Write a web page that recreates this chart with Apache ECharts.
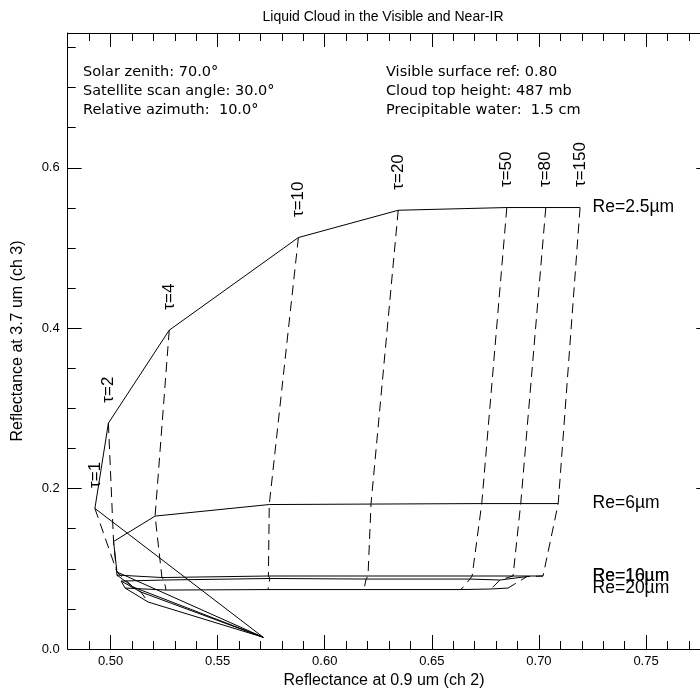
<!DOCTYPE html>
<html><head><meta charset="utf-8">
<script src="https://cdn.jsdelivr.net/npm/echarts@6/dist/echarts.min.js"></script>
<style>html,body{margin:0;padding:0;background:#fff;overflow:hidden;width:700px;height:694px}#chart{width:711px;height:694px}</style>
</head><body><div id="chart"></div>
<script>
// ---- data (reflectance at 0.9 um, reflectance at 3.7 um) ----
const TAU_LABELS = ['τ=1', 'τ=2', 'τ=4', 'τ=10', 'τ=20', 'τ=50', 'τ=80', 'τ=150'];
const RE_NAMES = ['Re=2.5µm', 'Re=6µm', 'Re=10µm', 'Re=16µm', 'Re=20µm'];
const CLEAR_SKY = [0.5713, 0.0146];   // tau = 0
const re2_5 = [[0.4927,0.1753],[0.4990,0.2816],[0.5274,0.3975],[0.5877,0.5130],[0.6343,0.5470],[0.6850,0.5504],[0.7032,0.5504],[0.7192,0.5504]];
const re6   = [[0.5030,0.0960],[0.5014,0.1340],[0.5208,0.1657],[0.5741,0.1801],[0.6216,0.1807],[0.6733,0.1813],[0.6915,0.1813],[0.7090,0.1813]];
const re10  = [[0.5105,0.0773],[0.5030,0.0922],[0.5240,0.0891],[0.5737,0.0910],[0.6202,0.0910],[0.6688,0.0910],[0.6879,0.0910],[0.7019,0.0910]];
const re16  = [[0.5142,0.0710],[0.5049,0.0847],[0.5250,0.0860],[0.5744,0.0879],[0.6193,0.0872],[0.6678,0.0872],[0.6818,0.0860],[0.6944,0.0903]];
const re20  = [[0.5175,0.0586],[0.5068,0.0760],[0.5259,0.0735],[0.5735,0.0741],[0.6183,0.0741],[0.6636,0.0741],[0.6776,0.0748],[0.6856,0.0760]];
const X_RANGE = [0.48, 0.78];
const Y_RANGE = [0, 0.768];
const RE_LABEL_X = 0.7248;
const INFO_LEFT = ['Solar zenith: 70.0°', 'Satellite scan angle: 30.0°', 'Relative azimuth:  10.0°'];
const INFO_RIGHT = ['Visible surface ref: 0.80', 'Cloud top height: 487 mb', 'Precipitable water:  1.5 cm'];

const curves = [re2_5, re6, re10, re16, re20];
const SANS = '"Liberation Sans", Arial, Helvetica, sans-serif';
const INFO_FONT = '"DejaVu Sans", sans-serif';
const black = '#000';

const series = [];
curves.forEach((c, i) => {
  series.push({
    type: 'line', name: RE_NAMES[i], data: [CLEAR_SKY].concat(c),
    symbol: 'none', lineStyle: {color: black, width: 1}, silent: true, animation: false, z: 3
  });
});
TAU_LABELS.forEach((t, k) => {
  series.push({
    type: 'line', name: t, data: curves.map(c => c[k]),
    symbol: 'none', lineStyle: {color: black, width: 1, type: [10, 6]}, silent: true, animation: false, z: 2
  });
});
series.push({
  type: 'scatter', data: re2_5, symbolSize: 1, itemStyle: {color: 'transparent'}, silent: true, animation: false,
  label: {show: true, formatter: p => TAU_LABELS[p.dataIndex], position: 'top', distance: 20, rotate: 90,
          align: 'left', verticalAlign: 'middle', color: black, opacity: 1, fontFamily: SANS, fontSize: 17}
});
series.push({
  type: 'scatter', data: curves.map(c => [RE_LABEL_X, c[c.length - 1][1]]), symbolSize: 1,
  itemStyle: {color: 'transparent'}, silent: true, animation: false,
  label: {show: true, formatter: p => RE_NAMES[p.dataIndex], position: 'right', distance: 0,
          color: black, opacity: 1, fontFamily: SANS, fontSize: 17.5}
});

function xAxisDef(pos, labels) {
  return {
    type: 'value', position: pos, min: X_RANGE[0], max: X_RANGE[1], splitNumber: 6,
    axisLine: {show: true, onZero: false, lineStyle: {color: black, width: 1}},
    axisTick: {show: true, inside: true, length: 14, lineStyle: {color: black}},
    minorTick: {show: true, splitNumber: 5, length: 8, lineStyle: {color: black}},
    splitLine: {show: false},
    axisLabel: {show: labels, formatter: v => v.toFixed(2), color: black, fontFamily: SANS, fontSize: 13, margin: 6,
                showMinLabel: false, showMaxLabel: false},
    name: labels ? 'Reflectance at 0.9 um (ch 2)' : '', nameLocation: 'middle', nameGap: 20,
    nameTextStyle: {color: black, fontFamily: SANS, fontSize: 16, padding: [0, 10, 0, 0]}
  };
}
function yAxisDef(pos, labels) {
  return {
    type: 'value', position: pos, min: Y_RANGE[0], max: Y_RANGE[1], interval: 0.2,
    axisLine: {show: true, onZero: false, lineStyle: {color: black, width: 1}},
    axisTick: {show: true, inside: true, length: 14, lineStyle: {color: black}},
    minorTick: {show: true, splitNumber: 4, length: 8, lineStyle: {color: black}},
    splitLine: {show: false},
    axisLabel: {show: labels, formatter: v => v.toFixed(1), color: black, fontFamily: SANS, fontSize: 13, margin: 8,
                showMaxLabel: false},
    name: labels ? 'Reflectance at 3.7 um (ch 3)' : '', nameLocation: 'middle', nameGap: 42,
    nameTextStyle: {color: black, fontFamily: SANS, fontSize: 16}
  };
}

const graphic = [{type: 'text', x: 383, y: 17, style: {text: 'Liquid Cloud in the Visible and Near-IR', fill: black,
  font: '14px ' + SANS, textAlign: 'center', textVerticalAlign: 'middle'}}];
INFO_LEFT.forEach((t, i) => graphic.push({type: 'text', x: 83, y: 72 + 19 * i,
  style: {text: t, fill: black, font: '14.5px ' + INFO_FONT, textAlign: 'left', textVerticalAlign: 'middle'}}));
INFO_RIGHT.forEach((t, i) => graphic.push({type: 'text', x: 386, y: 72 + 19 * i,
  style: {text: t, fill: black, font: '14.5px ' + INFO_FONT, textAlign: 'left', textVerticalAlign: 'middle'}}));

const chart = echarts.init(document.getElementById('chart'), null, {renderer: 'canvas'});
chart.setOption({
  backgroundColor: '#fff', animation: false,
  grid: {left: 67.7, right: 0.7, top: 33, bottom: 45, containLabel: false},
  xAxis: [xAxisDef('bottom', true), xAxisDef('top', false)],
  yAxis: [yAxisDef('left', true), yAxisDef('right', false)],
  series: series,
  graphic: graphic
});
</script></body></html>
